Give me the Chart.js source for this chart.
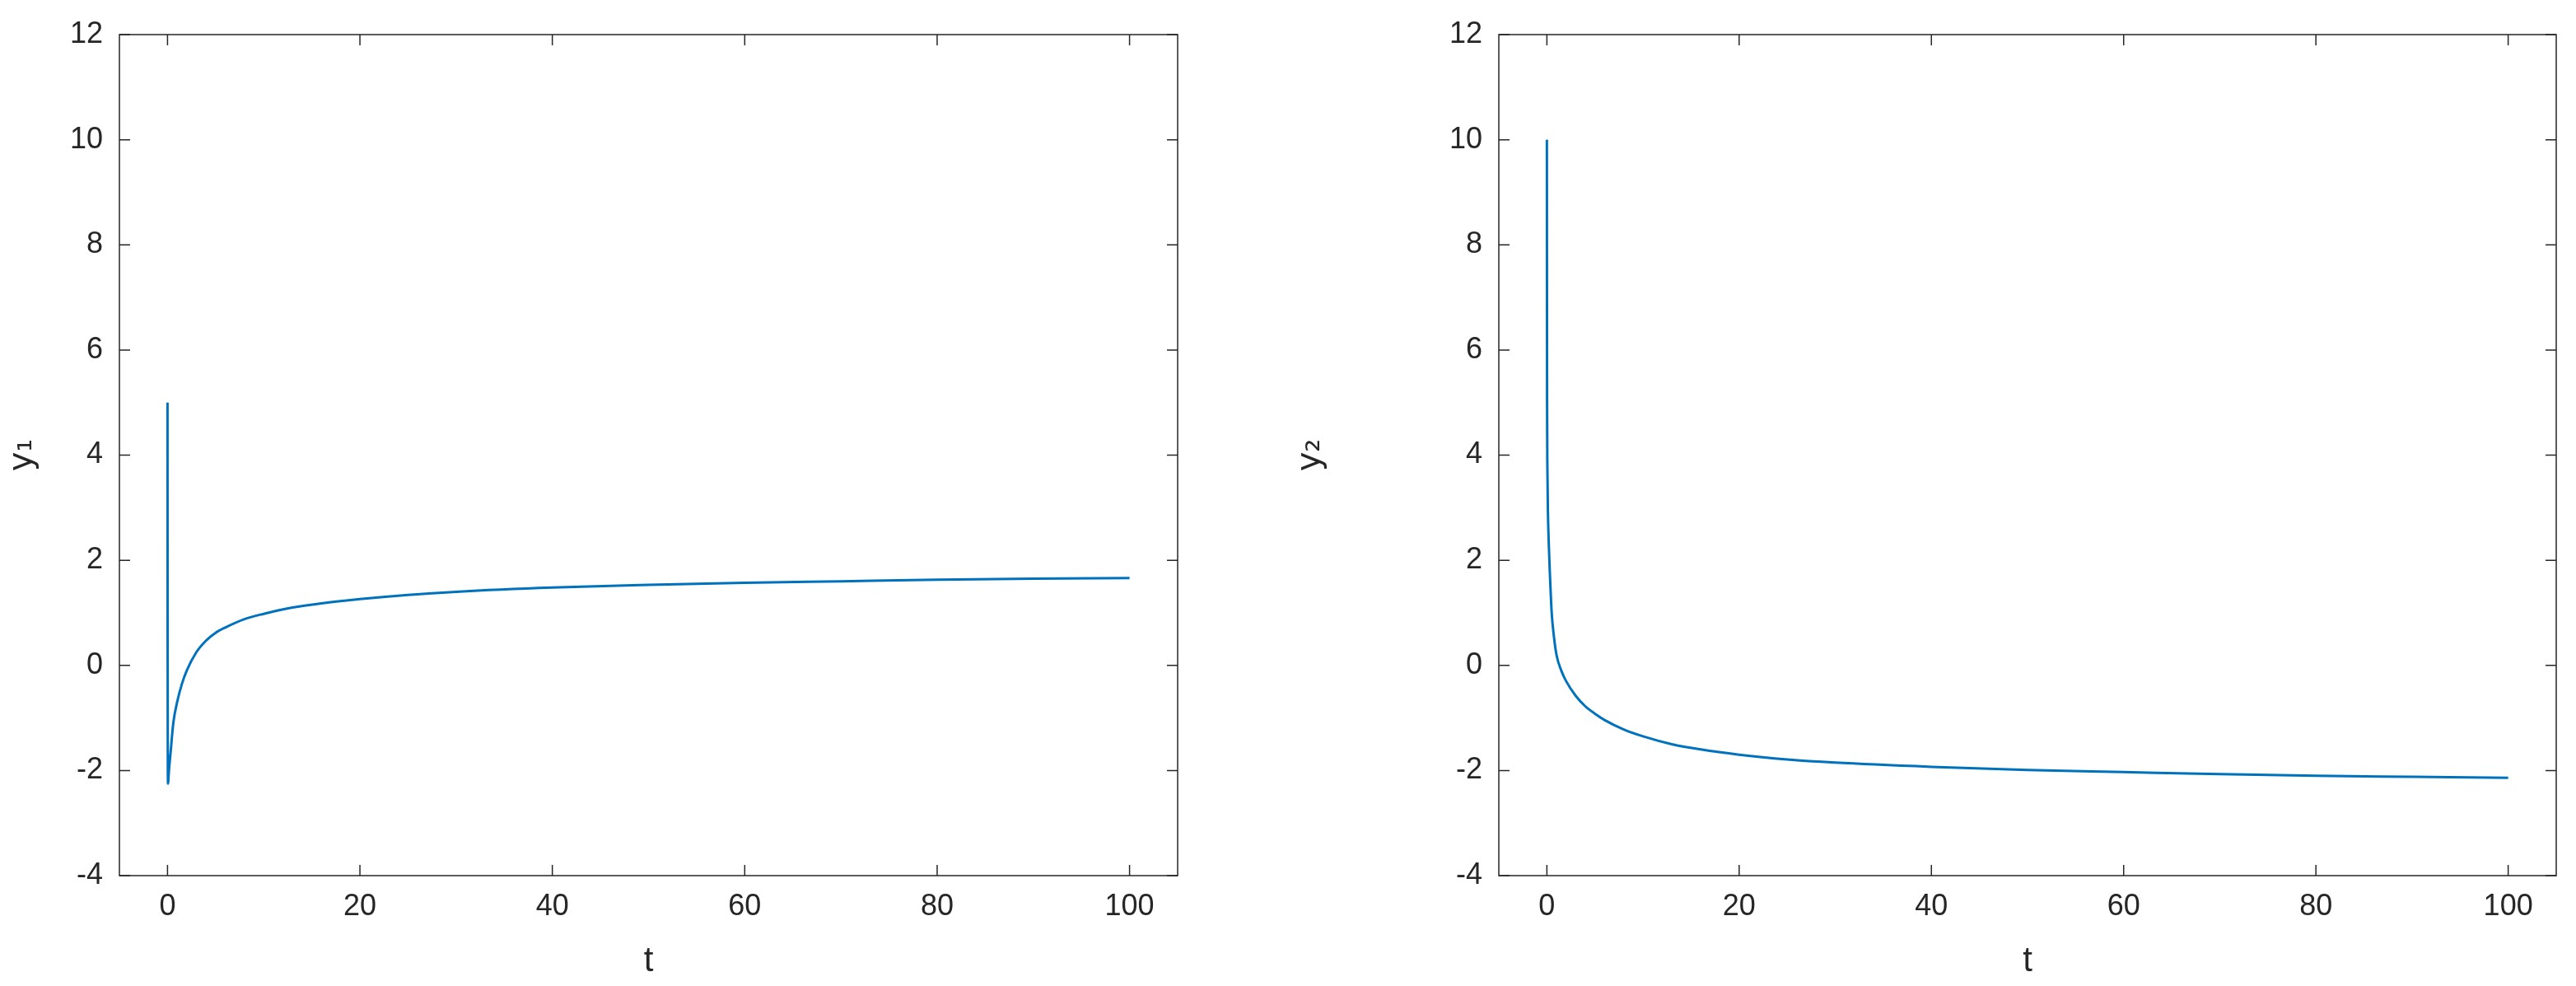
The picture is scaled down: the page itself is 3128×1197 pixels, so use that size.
<!DOCTYPE html>
<html>
<head>
<meta charset="utf-8">
<script src="https://cdn.jsdelivr.net/npm/chart.js@4"></script>
<style>
  body { margin: 0; background: #fff; }
  .wrap { display: flex; width: 3128px; height: 1197px; }
  .cell { position: relative; width: 1564px; height: 1197px; }
</style>
</head>
<body>
<div class="wrap">
  <div class="cell"><canvas id="chartY1"></canvas></div>
  <div class="cell"><canvas id="chartY2"></canvas></div>
</div>
<script>
// Values
const tValues1 = [0, 0.005, 0.05, 0.15, 0.3, 0.6, 1, 1.5, 2, 3, 4, 5, 6, 8, 10, 13, 16, 20, 25, 30, 40, 50, 60, 70, 80, 90, 100];
const y1Values = [5, 2.5, -2.25, -2.0, -1.7, -1.1, -0.7, -0.35, -0.1, 0.25, 0.47, 0.62, 0.72, 0.88, 0.98, 1.1, 1.18, 1.26, 1.34, 1.4, 1.48, 1.53, 1.57, 1.6, 1.63, 1.65, 1.66];
const tValues2 = [0, 0.02, 0.05, 0.1, 0.2, 0.3, 0.5, 0.7, 1, 1.5, 2, 3, 4, 5, 6, 8, 10, 13, 16, 20, 25, 30, 40, 50, 60, 70, 80, 90, 100];
const y2Values = [10, 5, 3.8, 3.0, 2.3, 1.8, 1.0, 0.6, 0.2, -0.1, -0.3, -0.58, -0.78, -0.92, -1.04, -1.22, -1.35, -1.5, -1.6, -1.7, -1.79, -1.85, -1.93, -1.99, -2.03, -2.07, -2.1, -2.12, -2.14];
const xTicks = [0, 20, 40, 60, 80, 100];
const yTicks = [-4, -2, 0, 2, 4, 6, 8, 10, 12];

const FONT = "'Liberation Sans', Arial, sans-serif";

// MATLAB-style box with inward tick marks
const boxPlugin = {
    id: 'box',
    afterDraw(chart) {
        const { ctx, chartArea: a, scales } = chart;
        ctx.save();
        ctx.strokeStyle = '#262626';
        ctx.lineWidth = 1.5;
        ctx.strokeRect(a.left, a.top, a.right - a.left, a.bottom - a.top);
        const len = 13;
        ctx.beginPath();
        xTicks.forEach(v => {
            const x = scales.x.getPixelForValue(v);
            ctx.moveTo(x, a.bottom); ctx.lineTo(x, a.bottom - len);
            ctx.moveTo(x, a.top); ctx.lineTo(x, a.top + len);
        });
        yTicks.forEach(v => {
            const y = scales.y.getPixelForValue(v);
            ctx.moveTo(a.left, y); ctx.lineTo(a.left + len, y);
            ctx.moveTo(a.right, y); ctx.lineTo(a.right - len, y);
        });
        ctx.stroke();
        ctx.restore();
    }
};

function makeChart(id, tVals, yVals, yTitle, leftWidth, rightPad) {
    const ctx = document.getElementById(id).getContext('2d');
    return new Chart(ctx, {
        type: 'scatter',
        data: {
            datasets: [{
                data: tVals.map((t, i) => ({ x: t, y: yVals[i] })),
                showLine: true,
                borderColor: '#0072BD',
                borderWidth: 3,
                pointRadius: 0,
                cubicInterpolationMode: 'monotone'
            }]
        },
        options: {
            responsive: true,
            maintainAspectRatio: false,
            animation: false,
            devicePixelRatio: 1,
            layout: { padding: { top: 42, right: rightPad, left: 0, bottom: 0 } },
            plugins: { legend: { display: false }, tooltip: { enabled: false } },
            scales: {
                x: {
                    type: 'linear', min: -5, max: 105,
                    afterBuildTicks: s => { s.ticks = xTicks.map(v => ({ value: v })); },
                    afterFit: s => { s.height = 134; },
                    grid: { display: false },
                    border: { display: false },
                    ticks: { color: '#262626', font: { family: FONT, size: 36 }, padding: 8, maxRotation: 0 },
                    title: { display: true, text: 't', color: '#262626', font: { family: FONT, size: 42 }, padding: { top: 0 } }
                },
                y: {
                    type: 'linear', min: -4, max: 12,
                    afterBuildTicks: s => { s.ticks = yTicks.map(v => ({ value: v })); },
                    afterFit: s => { s.width = leftWidth; },
                    grid: { display: false },
                    border: { display: false },
                    ticks: { color: '#262626', font: { family: FONT, size: 36 }, padding: 12 },
                    title: { display: true, text: yTitle, color: '#262626', font: { family: "'DejaVu Sans', sans-serif", size: 40 }, padding: { bottom: 6 } }
                }
            }
        },
        plugins: [boxPlugin]
    });
}

makeChart('chartY1', tValues1, y1Values, 'y\u2081', 145, 134);
makeChart('chartY2', tValues2, y2Values, 'y\u2082', 256, 24);
</script>
</body>
</html>
